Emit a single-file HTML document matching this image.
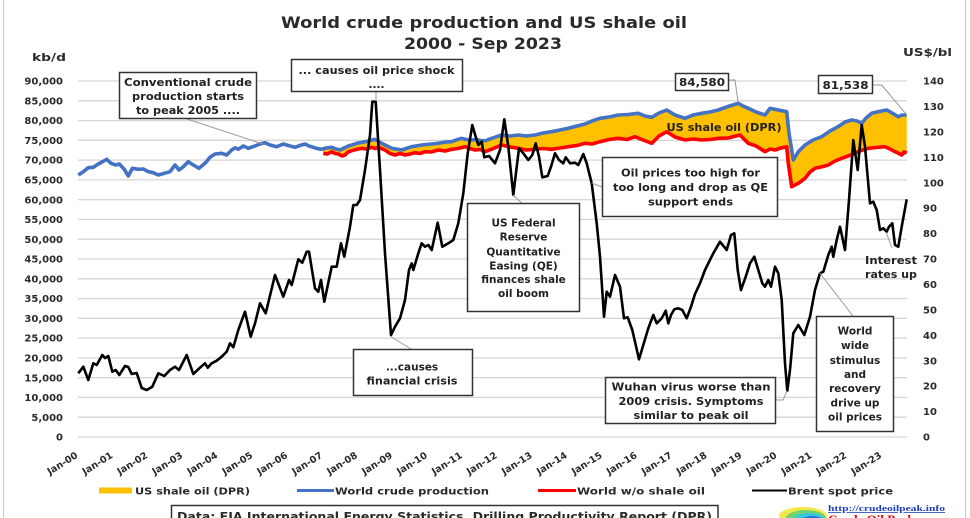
<!DOCTYPE html>
<html><head><meta charset="utf-8"><style>
html,body{margin:0;padding:0;background:#fff;}
svg{display:block;}
.t{font-family:"DejaVu Sans","Liberation Sans",sans-serif;font-weight:bold;fill:#2a2a2a;}
.a{font-family:"DejaVu Sans","Liberation Sans",sans-serif;font-weight:bold;fill:#222;font-size:10.5px;text-anchor:middle;}
</style></head><body>
<svg width="970" height="518" viewBox="0 0 970 518" xmlns="http://www.w3.org/2000/svg">
<rect x="0" y="0" width="970" height="518" fill="#fff"/>
<rect x="3.5" y="-2" width="962" height="530" fill="none" stroke="#c8c8c8" stroke-width="1"/>

<!-- title -->
<text class="t" x="484" y="28" font-size="16" text-anchor="middle" textLength="406" lengthAdjust="spacingAndGlyphs" fill="#222">World crude production and US shale oil</text>
<text class="t" x="483" y="49" font-size="16" text-anchor="middle" textLength="158" lengthAdjust="spacingAndGlyphs" fill="#222">2000 - Sep 2023</text>

<text class="t" x="32" y="61" font-size="11" textLength="34" lengthAdjust="spacingAndGlyphs">kb/d</text>
<text class="t" x="903" y="56" font-size="11" textLength="49" lengthAdjust="spacingAndGlyphs">US$/bl</text>

<!-- gridlines -->
<g stroke="#d6d6d6" stroke-width="1.3">
<line x1="78" x2="907" y1="437" y2="437"/><line x1="78" x2="907" y1="417.2" y2="417.2"/><line x1="78" x2="907" y1="397.4" y2="397.4"/><line x1="78" x2="907" y1="377.7" y2="377.7"/><line x1="78" x2="907" y1="357.9" y2="357.9"/><line x1="78" x2="907" y1="338.1" y2="338.1"/><line x1="78" x2="907" y1="318.3" y2="318.3"/><line x1="78" x2="907" y1="298.6" y2="298.6"/><line x1="78" x2="907" y1="278.8" y2="278.8"/><line x1="78" x2="907" y1="259" y2="259"/><line x1="78" x2="907" y1="239.2" y2="239.2"/><line x1="78" x2="907" y1="219.4" y2="219.4"/><line x1="78" x2="907" y1="199.7" y2="199.7"/><line x1="78" x2="907" y1="179.9" y2="179.9"/><line x1="78" x2="907" y1="160.1" y2="160.1"/><line x1="78" x2="907" y1="140.3" y2="140.3"/><line x1="78" x2="907" y1="120.6" y2="120.6"/><line x1="78" x2="907" y1="100.8" y2="100.8"/><line x1="78" x2="907" y1="81" y2="81"/>
</g>

<!-- left axis labels -->
<g class="t" font-size="10" text-anchor="end">
<text x="63" y="440.6">0</text><text x="63" y="420.8">5,000</text><text x="63" y="401">10,000</text><text x="63" y="381.3">15,000</text><text x="63" y="361.5">20,000</text><text x="63" y="341.7">25,000</text><text x="63" y="321.9">30,000</text><text x="63" y="302.2">35,000</text><text x="63" y="282.4">40,000</text><text x="63" y="262.6">45,000</text><text x="63" y="242.8">50,000</text><text x="63" y="223">55,000</text><text x="63" y="203.3">60,000</text><text x="63" y="183.5">65,000</text><text x="63" y="163.7">70,000</text><text x="63" y="143.9">75,000</text><text x="63" y="124.2">80,000</text><text x="63" y="104.4">85,000</text><text x="63" y="84.6">90,000</text>
</g>
<!-- right axis labels -->
<g class="t" font-size="10">
<text x="923" y="440.6">0</text><text x="923" y="415.2">10</text><text x="923" y="389.7">20</text><text x="923" y="364.3">30</text><text x="923" y="338.9">40</text><text x="923" y="313.4">50</text><text x="923" y="288">60</text><text x="923" y="262.6">70</text><text x="923" y="237.2">80</text><text x="923" y="211.7">90</text><text x="923" y="186.3">100</text><text x="923" y="160.9">110</text><text x="923" y="135.4">120</text><text x="923" y="110">130</text><text x="923" y="84.6">140</text>
</g>

<!-- x labels -->
<g class="t" font-size="9.5" text-anchor="end">
<text transform="translate(78.5,457) rotate(-32)">Jan-00</text>
<text transform="translate(113.5,457) rotate(-32)">Jan-01</text>
<text transform="translate(148.4,457) rotate(-32)">Jan-02</text>
<text transform="translate(183.4,457) rotate(-32)">Jan-03</text>
<text transform="translate(218.3,457) rotate(-32)">Jan-04</text>
<text transform="translate(253.3,457) rotate(-32)">Jan-05</text>
<text transform="translate(288.2,457) rotate(-32)">Jan-06</text>
<text transform="translate(323.2,457) rotate(-32)">Jan-07</text>
<text transform="translate(358.1,457) rotate(-32)">Jan-08</text>
<text transform="translate(393.1,457) rotate(-32)">Jan-09</text>
<text transform="translate(428,457) rotate(-32)">Jan-10</text>
<text transform="translate(463,457) rotate(-32)">Jan-11</text>
<text transform="translate(497.9,457) rotate(-32)">Jan-12</text>
<text transform="translate(532.9,457) rotate(-32)">Jan-13</text>
<text transform="translate(567.8,457) rotate(-32)">Jan-14</text>
<text transform="translate(602.8,457) rotate(-32)">Jan-15</text>
<text transform="translate(637.7,457) rotate(-32)">Jan-16</text>
<text transform="translate(672.7,457) rotate(-32)">Jan-17</text>
<text transform="translate(707.6,457) rotate(-32)">Jan-18</text>
<text transform="translate(742.6,457) rotate(-32)">Jan-19</text>
<text transform="translate(777.5,457) rotate(-32)">Jan-20</text>
<text transform="translate(812.5,457) rotate(-32)">Jan-21</text>
<text transform="translate(847.4,457) rotate(-32)">Jan-22</text>
<text transform="translate(882.4,457) rotate(-32)">Jan-23</text>
</g>

<!-- orange shale fill -->
<polygon fill="#FFC000" points="323.3,149 331.7,147.3 340,150 348.3,146 356.7,143.3 365,141.7 375,139.3 381.7,143.3 391.7,148.3 401.7,150 411.7,146.7 421.7,145 431.7,144 441.7,142.7 451.7,141.7 461.7,138.3 471.7,140 481.7,140.7 491.7,138.3 501.7,135 518.3,135 535,135 551.7,131.7 568.3,128.3 585,124 600,118.3 618.3,115 638.3,113.3 651.7,117.3 666.7,110 685,118.3 701.7,113.3 718.3,110 738.3,103.3 748.3,108.3 765,115 770,108.3 778.3,110 786.7,111.7 789,133.3 793.3,160 798.3,151.7 805,145 821.7,136.7 838,126.7 851.7,120 861.7,123.3 871.7,113.3 886.7,110 898.3,116.7 906.7,115 906.7,152.7 901.7,155 895,151.7 885,146.7 868.3,148.3 855,153.3 841.7,158.3 828.3,165 815,168.3 805,178.3 798.3,183.3 791.7,186.7 788.3,163.3 786.7,146.7 775,150 765,151.7 748.3,143.3 740,135 718.3,138.3 701.7,140 685,140 666.7,131.7 651.7,143.3 635,136.7 618.3,138.3 600,141.7 585,143.3 568.3,146.7 551.7,149.3 535,149.3 518.3,148.3 501.7,145 485,151.7 475,150 465,146.7 451.7,149.3 438.3,150 425,151.7 415,152.7 405,155 395,155 385,150 378.3,147.3 371.7,147.3 361.7,148.3 351.7,150.7 345,155 338.3,154 331.7,151.7 323.3,153.3"/>

<!-- red line -->
<polyline fill="none" stroke="#FF0000" stroke-width="3.6" stroke-linejoin="round" points="323.3,153.3 327,154 331.7,151.7 335,153.5 338.3,154 342,156 345,155 348,152 351.7,150.7 356,149.5 361.7,148.3 366,149 371.7,147.3 375,148.5 378.3,147.3 385,150 390,153.5 395,155 400,153.5 405,155 410,154 415,152.7 420,153.5 425,151.7 431,152 438.3,150 445,151 451.7,149.3 458,148.5 465,146.7 470,148.5 475,150 480,149.5 485,151.7 492,149 501.7,145 510,147 518.3,148.3 526,150 535,149.3 543,148.5 551.7,149.3 560,148 568.3,146.7 577,145.5 585,143.3 592,144 600,141.7 609,139.5 618.3,138.3 627,139.5 635,136.7 643,140 651.7,143.3 659,136 666.7,131.7 675,137 685,140 693,139 701.7,140 710,139.5 718.3,138.3 728,138 740,135 744,139 748.3,143.3 756,146 765,151.7 770,149 775,150 781,148 786.7,146.7 788.3,163.3 791.7,186.7 795,185 798.3,183.3 805,178.3 810,172 815,168.3 821,167 828.3,165 835,161 841.7,158.3 848,156 855,153.3 861,150.5 868.3,148.3 876,147.5 885,146.7 890,149 895,151.7 898,153 901.7,155 904,152 906.7,152.7"/>

<!-- blue line -->
<polyline fill="none" stroke="#4472C4" stroke-width="3.6" stroke-linejoin="round" points="78.3,175 83.3,171.7 88.3,167.7 93.3,167.3 98.3,164 102,162 106.7,159.3 111,163.3 115.7,165 119.3,164 124.3,169.3 128.3,176 132.3,168.3 138.3,169.3 143.3,169 148.3,171.7 153.3,172.7 158.3,175 164.3,173.3 170,171.7 175,165 179,170 183.3,166.7 188.3,161.7 193.3,165 199,168.3 205,163.3 210,157.3 215,154 221.7,153.3 226.7,155 231.7,150 235,147.7 238.3,149.3 243.3,146 248.3,148.3 255,146 260,144 265,142.7 270,145 276.7,146.7 283.3,144 290,146 295,147.3 300,145.5 305,144 309,146 313.3,147.3 317,148.5 321.7,149.3 326,148 331.7,147.3 336,149 340,150 344,148 348.3,146 352,145 356.7,143.3 361,142.5 365,141.7 370,140.5 375,139.3 381.7,143.3 386,145.5 391.7,148.3 396,149 401.7,150 406,148.5 411.7,146.7 416,146 421.7,145 426,144.5 431.7,144 436,143.5 441.7,142.7 446,142 451.7,141.7 456,140 461.7,138.3 466,139.5 471.7,140 476,139.5 481.7,140.7 486,140.5 491.7,138.3 501.7,135 510,136 518.3,135 526,136 535,135 543,133 551.7,131.7 560,130 568.3,128.3 577,126 585,124 592,121 600,118.3 609,117 618.3,115 628,114.5 638.3,113.3 645,116 651.7,117.3 659,113 666.7,110 675,115 685,118.3 693,115 701.7,113.3 710,112 718.3,110 728,106.5 738.3,103.3 743,106 748.3,108.3 756,112 765,115 770,108.3 778.3,110 786.7,111.7 789,133.3 793.3,160 798.3,151.7 805,145 813,140 821.7,136.7 830,131 838,126.7 845,122 851.7,120 857,121 861.7,123.3 866,118 871.7,113.3 879,111.5 886.7,110 892,113 898.3,116.7 902,115 906.7,115"/>

<!-- Brent black line -->
<polyline fill="none" stroke="#000" stroke-width="2.6" stroke-linejoin="round" points="78.3,373.3 83.3,366.7 88.3,380 93.3,363.3 96.7,365 102.3,355 105,358 108.3,356 112.3,371.7 115.7,370 119.3,375 125,366 128.3,367 131.7,374 136.7,373 141.7,388 146.7,390 152.3,386.7 158.3,373.3 164.3,376 170,370 175,366.7 179,370 186.7,355 193.3,374 200,367.7 205,363.3 207.7,367.7 211.7,363.3 216.7,360.7 221.7,356.7 226.7,351.7 230,343.3 233.3,347.3 238.3,330 245,311.7 250.7,336.7 255,323.3 260,303.3 265.7,313.3 275,275 283.3,296.7 289,280 291.7,285 298.3,259.3 302.3,262.7 306.7,251.7 309,251.7 315,288.3 318.3,291.7 321,280 324.3,301.7 331.7,266.7 336.7,266.7 341,243.3 344.3,256.7 350,226.7 353.3,205 356.7,205 360,200 365,170 370,135 372.3,101.7 375.7,101.7 380,170 385,253.3 391,335 395,326.7 400,318.3 405,300 409,270 411.7,263.3 413.3,270 418.3,253.3 421.7,243.3 425,246.7 428.3,245 431.7,250 437.7,222.7 442.3,246.7 448.3,243.3 453.3,240 458.3,223.3 463.3,193.3 467.7,153.3 472.3,125 475.7,136.7 478.3,145 481.7,141.7 484.3,157.3 489,156 495,163.3 500,150 504.3,119.3 508.3,146.7 513.3,195 519,148.3 523.3,153.3 528.3,160 532.3,155 535.7,143.3 539,156.7 542.3,177.3 547.7,176 551,166.7 555,153.3 559,160 563.3,163.3 565.7,157.3 570,163.3 575,162.7 578.3,165 583.3,154 586.7,163.3 591.7,183.3 596.7,223.3 600,256.7 604,316.7 606.7,291.7 610,296.7 615,275 620,286.7 624,318.3 627.7,317.3 632.3,330 639,359.3 643.3,345 648.3,328.3 653.3,315 656.7,323.3 661.7,318.3 665.7,310.7 668.3,323.3 671,315 674.3,309.3 678.3,308.3 682.3,310 686.7,318.3 691,306.7 695,294 700,283.3 705,270 708.3,263.3 713.3,253.3 720,241.7 726.7,250 731,235 734.3,233.3 737.7,270 741,290 745.7,276.7 750,263.3 754.3,256.7 758.3,270 762.3,283.3 765,286.7 768.3,280 771,286.7 775,266.7 778.3,273.3 781.7,300 785,363.3 787.3,390.7 790,370 793.3,333.3 798.3,325 804.3,335 810,316.7 815,290 820,273.3 823.3,271.7 828.3,255 831.7,246.7 833.3,256.7 836.7,240 840,226.7 845,250 849,200 853.3,140 857.7,170 861.7,125 865,146.7 870,203.3 873.3,201.7 876.7,210 880,230 883.3,228.3 886.7,231.7 889,226.7 892.3,223.3 895,245 898.3,246.7 901.7,226.7 906.7,199.3"/>

<!-- leader lines -->
<g stroke="#9a9a9a" stroke-width="1" fill="none">
<line x1="187" y1="119" x2="263" y2="144"/>
<line x1="376" y1="92" x2="376" y2="101"/>
<line x1="390" y1="336" x2="411" y2="349"/>
<line x1="513" y1="195" x2="521.7" y2="203"/>
<line x1="591.7" y1="183" x2="602" y2="187"/>
<polyline points="776,400 783,400 787,391"/>
<line x1="819" y1="272" x2="853" y2="316"/>
<line x1="886" y1="232" x2="892" y2="248"/>
<polyline points="729,80 735,80 738,102"/>
<polyline points="872.7,85 881.7,85 906.7,115"/>
</g>

<!-- annotation boxes -->
<g fill="#fff" stroke="#333" stroke-width="1.5">
<rect x="119.5" y="72.5" width="137" height="46"/>
<rect x="291.5" y="59.5" width="171" height="32"/>
<rect x="353.5" y="349.5" width="119" height="46"/>
<rect x="467.5" y="203.5" width="112" height="108"/>
<rect x="602.5" y="157.5" width="175" height="59"/>
<rect x="605.5" y="377.5" width="170" height="46"/>
<rect x="816.5" y="316.5" width="77" height="115"/>
<rect x="675.5" y="73.5" width="53" height="17"/>
<rect x="818.5" y="75.5" width="54" height="18"/>
</g>

<g class="a">
<text x="188" y="86" textLength="128" lengthAdjust="spacingAndGlyphs">Conventional crude</text>
<text x="188" y="100" textLength="112" lengthAdjust="spacingAndGlyphs">production starts</text>
<text x="188" y="114" textLength="104" lengthAdjust="spacingAndGlyphs">to peak 2005 ....</text>

<text x="376.5" y="74" textLength="156" lengthAdjust="spacingAndGlyphs">... causes oil price shock</text>
<text x="376.5" y="88">....</text>

<text x="412" y="370.5">...causes</text>
<text x="412" y="384.5" textLength="91" lengthAdjust="spacingAndGlyphs">financial crisis</text>

<text x="523.5" y="226.5">US Federal</text>
<text x="523.5" y="240.5">Reserve</text>
<text x="523.5" y="255.5">Quantitative</text>
<text x="523.5" y="269.5">Easing (QE)</text>
<text x="523.5" y="283">finances shale</text>
<text x="523.5" y="297">oil boom</text>

<text x="690.5" y="176.5" textLength="139" lengthAdjust="spacingAndGlyphs">Oil prices too high for</text>
<text x="690.5" y="191" textLength="155" lengthAdjust="spacingAndGlyphs">too long and drop as QE</text>
<text x="690.5" y="205.5" textLength="85" lengthAdjust="spacingAndGlyphs">support ends</text>

<text x="691" y="390.5" textLength="159" lengthAdjust="spacingAndGlyphs">Wuhan virus worse than</text>
<text x="691" y="405" textLength="145" lengthAdjust="spacingAndGlyphs">2009 crisis. Symptoms</text>
<text x="691" y="419" textLength="115" lengthAdjust="spacingAndGlyphs">similar to peak oil</text>

<text x="855" y="334.5">World</text>
<text x="855" y="349">wide</text>
<text x="855" y="363.8">stimulus</text>
<text x="855" y="378">and</text>
<text x="855" y="392">recovery</text>
<text x="855" y="406.5">drive up</text>
<text x="855" y="420.5">oil prices</text>

<text x="891" y="264" textLength="52" lengthAdjust="spacingAndGlyphs">Interest</text>
<text x="891" y="278" textLength="52" lengthAdjust="spacingAndGlyphs">rates up</text>

<text x="702" y="86" textLength="46" lengthAdjust="spacingAndGlyphs">84,580</text>
<text x="845.5" y="89" textLength="46" lengthAdjust="spacingAndGlyphs">81,538</text>

<text x="724" y="131" textLength="115" lengthAdjust="spacingAndGlyphs">US shale oil (DPR)</text>
</g>

<!-- legend -->
<rect x="99" y="487.5" width="33" height="6" fill="#FFC000"/>
<text class="t" x="135" y="494.5" font-size="10" textLength="115" lengthAdjust="spacingAndGlyphs">US shale oil (DPR)</text>
<line x1="297" y1="490.5" x2="334" y2="490.5" stroke="#4472C4" stroke-width="3"/>
<text class="t" x="335" y="494.5" font-size="10" textLength="154" lengthAdjust="spacingAndGlyphs">World crude production</text>
<line x1="538" y1="490.5" x2="576" y2="490.5" stroke="#FF0000" stroke-width="3"/>
<text class="t" x="577" y="494.5" font-size="10" textLength="128" lengthAdjust="spacingAndGlyphs">World w/o shale oil</text>
<line x1="752" y1="490.5" x2="787" y2="490.5" stroke="#000" stroke-width="2"/>
<text class="t" x="788" y="494.5" font-size="10" textLength="105" lengthAdjust="spacingAndGlyphs">Brent spot price</text>

<!-- data box -->
<rect x="171.5" y="505.5" width="546.5" height="24" fill="#fff" stroke="#333" stroke-width="1.5"/>
<text class="t" x="177" y="520.5" font-size="11.5" textLength="535" lengthAdjust="spacingAndGlyphs" fill="#222">Data: EIA International Energy Statistics, Drilling Productivity Report (DPR)</text>

<!-- logo -->
<ellipse cx="803" cy="516" rx="24" ry="9" fill="#f2e84a"/>
<ellipse cx="806" cy="518" rx="20" ry="8" fill="#6fd36f"/>
<ellipse cx="809" cy="520" rx="16" ry="7" fill="#35c8e0"/>
<ellipse cx="812" cy="522" rx="12" ry="6" fill="#2a6fd6"/>
<text x="828" y="511" font-family="Liberation Serif, serif" font-weight="bold" font-size="8" fill="#1f3fbf" text-decoration="underline" textLength="117" lengthAdjust="spacingAndGlyphs">http://crudeoilpeak.info</text>
<text x="828" y="524" font-family="Liberation Serif, serif" font-weight="bold" font-size="13" fill="#e00000">Crude Oil Peak</text>
</svg>
</body></html>
